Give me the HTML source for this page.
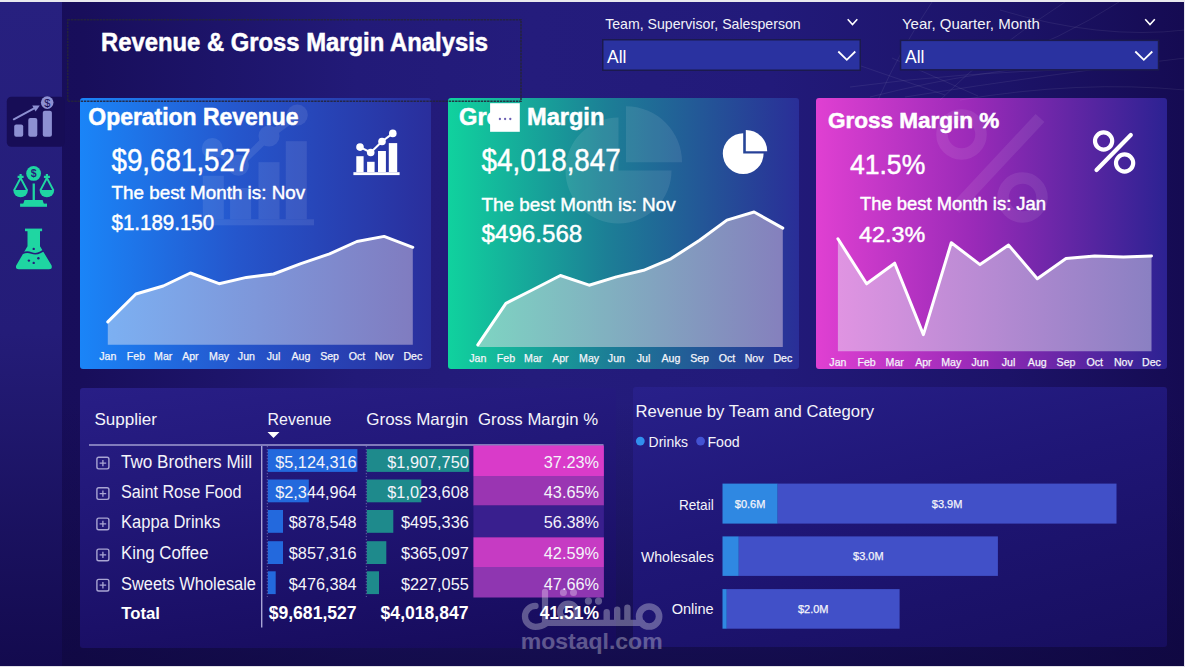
<!DOCTYPE html>
<html><head><meta charset="utf-8">
<style>
html,body{margin:0;padding:0;}
body{width:1185px;height:667px;overflow:hidden;position:relative;font-family:"Liberation Sans",sans-serif;background:#160c55;}
.a{position:absolute;}
svg text{font-family:"Liberation Sans",sans-serif;}
</style></head><body>
<div class="a" style="left:0;top:0;width:1185px;height:667px;background:linear-gradient(90deg,#170d58 0%,#180e5b 7%,#221a78 30%,#241c7c 45%,#221a7a 65%,#1c1368 85%,#150b52 100%);"></div>
<div class="a" style="left:0;top:0;width:1185px;height:667px;background:linear-gradient(180deg,rgba(16,8,70,0) 0%,rgba(16,8,70,0) 60%,rgba(14,7,60,0.75) 100%);"></div>
<div class="a" style="left:0;top:0;width:62px;height:667px;background:linear-gradient(180deg,#27207f 0%,#241c78 50%,#130a4e 100%);"></div>
<!-- cards -->
<div class="a" style="left:79.5px;top:97.5px;width:351px;height:271px;border-radius:3px;background:linear-gradient(90deg,#1a85f8 0%,#2556cc 45%,#2a2e9c 100%);"></div>
<div class="a" style="left:447.8px;top:97.5px;width:351px;height:271.8px;border-radius:3px;background:linear-gradient(90deg,#10d29e 0%,#1c7f96 45%,#2a2e98 100%);"></div>
<div class="a" style="left:816.3px;top:97.5px;width:351px;height:271.4px;border-radius:3px;background:linear-gradient(90deg,#e040d2 0%,#9a2ab8 45%,#2c2292 100%);"></div>
<!-- bottom panels -->
<div class="a" style="left:79.6px;top:387.5px;width:536px;height:260px;border-radius:3px;background:linear-gradient(172deg,#281e86 0%,#211777 40%,#1b1068 72%,#160b5a 100%);"></div>
<div class="a" style="left:632.5px;top:387.3px;width:534.5px;height:260px;border-radius:3px;background:linear-gradient(165deg,#28208a 0%,#1f1676 45%,#170e5e 100%);"></div>
<!-- slicers -->

<svg class="a" style="left:0;top:0" width="1185" height="667" viewBox="0 0 1185 667">
<defs>
<linearGradient id="f1" x1="0" x2="1" y1="0" y2="0"><stop offset="0" stop-color="#7cb0f2"/><stop offset="1" stop-color="#807cc0"/></linearGradient>
<linearGradient id="f2" x1="0" x2="1" y1="0" y2="0"><stop offset="0" stop-color="#7ed4c2"/><stop offset="1" stop-color="#8580bd"/></linearGradient>
<linearGradient id="f3" x1="0" x2="1" y1="0" y2="0"><stop offset="0" stop-color="#e094e2"/><stop offset="1" stop-color="#8a80c2"/></linearGradient>
</defs>
<g fill="none" stroke="#ffffff" stroke-opacity="0.07" stroke-width="1"><path d="M850 87 Q960 72 1090 69"/><path d="M905 97 Q1050 74 1185 58"/><path d="M861 66 L945 95"/><path d="M892 58 L978 96"/><path d="M870 97 Q985 68 1080 64"/><path d="M1065 2 Q990 50 940 100"/><path d="M932 2 Q900 50 878 100"/><path d="M1119 2 Q1060 40 995 62"/><path d="M960 100 Q1080 80 1185 90"/><path d="M1000 10 Q1100 40 1185 30"/></g>
<rect x="602.75" y="39.75" width="257.5" height="30.5" fill="#2a32a0" stroke="#1b1a4e" stroke-width="1.5"/>
<rect x="900.55" y="40.35" width="258" height="29.5" fill="#2a32a0" stroke="#1b1a4e" stroke-width="1.5"/>
<text x="101" y="50.7" font-size="25" font-weight="bold" stroke="#fff" stroke-width="0.5" text-anchor="start" fill="#fff" textLength="387" lengthAdjust="spacingAndGlyphs">Revenue &amp; Gross Margin Analysis</text>
<text x="605.2" y="28.8" font-size="15" text-anchor="start" fill="#f2f2f8" textLength="195.5" lengthAdjust="spacingAndGlyphs">Team, Supervisor, Salesperson</text>
<text x="901.9" y="28.8" font-size="15" text-anchor="start" fill="#f2f2f8" textLength="138" lengthAdjust="spacingAndGlyphs">Year, Quarter, Month</text>
<text x="607" y="62.8" font-size="17.5" text-anchor="start" fill="#fff">All</text>
<text x="905" y="62.8" font-size="17.5" text-anchor="start" fill="#fff">All</text>
<polyline points="847.7,19.2 852.5,24.6 857.3,19.2" fill="none" stroke="#fff" stroke-width="1.6"/>
<polyline points="1145.2,19.2 1150,24.6 1154.8,19.2" fill="none" stroke="#fff" stroke-width="1.6"/>
<polyline points="838.3,51.5 846.8,59.8 855.3,51.5" fill="none" stroke="#fff" stroke-width="1.8"/>
<polyline points="1135.3,51.5 1143.8,59.8 1152.3,51.5" fill="none" stroke="#fff" stroke-width="1.8"/>
<rect x="6.8" y="96.8" width="58" height="50" rx="4.5" fill="#170d56"/>
<rect x="14.2" y="124.6" width="9" height="12.1" rx="2" fill="#8d90d2"/>
<rect x="28.3" y="118.1" width="9" height="18.6" rx="2" fill="#8d90d2"/>
<rect x="42.8" y="110.8" width="9.1" height="25.9" rx="2" fill="#8d90d2"/>
<line x1="13.8" y1="119.3" x2="36" y2="107.4" stroke="#8d90d2" stroke-width="2" stroke-linecap="round"/>
<polygon points="39.8,105.4 32.2,105.6 35.6,111.6" fill="#8d90d2"/>
<circle cx="47.2" cy="102.6" r="6.3" fill="#8d90d2"/>
<text x="47.2" y="106.6" font-size="11" text-anchor="middle" fill="#170d56">$</text>
<circle cx="33.6" cy="173.4" r="7.4" fill="#1fd6a2"/>
<text x="33.6" y="177.4" font-size="10.5" font-weight="bold" text-anchor="middle" fill="#261e7c">$</text>
<rect x="32.6" y="183.5" width="2.3" height="17.5" fill="#1fd6a2"/>
<path d="M23.2 204 L24.5 200.1 H42.6 L43.9 204 Z" fill="#1fd6a2"/>
<rect x="20.1" y="203.6" width="26.9" height="3.2" fill="#1fd6a2"/>
<path d="M17.6 176.8 H23.6 M20.6 174 V179" stroke="#1fd6a2" stroke-width="2.2"/>
<path d="M20.6 178 L14.000000000000002 190.5 M20.6 178 L27.200000000000003 190.5" stroke="#1fd6a2" stroke-width="1.9" fill="none"/>
<path d="M13.3 190 H27.900000000000002 A7.3 7.3 0 0 1 13.3 190 Z" fill="#1fd6a2"/>
<path d="M43.9 176.8 H49.9 M46.9 174 V179" stroke="#1fd6a2" stroke-width="2.2"/>
<path d="M46.9 178 L40.3 190.5 M46.9 178 L53.5 190.5" stroke="#1fd6a2" stroke-width="1.9" fill="none"/>
<path d="M39.6 190 H54.199999999999996 A7.3 7.3 0 0 1 39.6 190 Z" fill="#1fd6a2"/>
<rect x="25" y="228.6" width="17.1" height="2.6" fill="#1fd6a2"/>
<path d="M27.5 231 H40 V246.2 L51.6 265.5 Q52.6 269.2 49 269.2 H18.8 Q15.2 269.2 16.2 265.5 L27.5 246.2 Z" fill="#1fd6a2"/>
<path d="M22.6 253.2 Q27 251.2 31.5 253 T40.5 252.2 T45.5 251.2" stroke="#261e7c" stroke-width="1.6" fill="none"/>
<circle cx="33.7" cy="248.9" r="1.2" fill="#261e7c"/>
<circle cx="38.4" cy="258.2" r="1.2" fill="#261e7c"/>
<circle cx="28.9" cy="260.6" r="1.2" fill="#261e7c"/>
<circle cx="33.7" cy="262.9" r="1.2" fill="#261e7c"/>
<g fill="#ffffff" opacity="1"><rect x="353.4" y="172.2" width="46.2" height="2.9"/><rect x="356.3" y="156.2" width="7.300000000000011" height="16.0"/><rect x="367.1" y="161.8" width="7.5" height="10.399999999999977"/><rect x="378.0" y="151.0" width="7.899999999999977" height="21.19999999999999"/><rect x="388.8" y="143.1" width="8.399999999999977" height="29.099999999999994"/><polyline points="360.0,147.1 370.7,152.5 382.0,141.5 392.8,133.4" fill="none" stroke="#ffffff" stroke-width="2"/><circle cx="360.0" cy="147.1" r="3.8"/><circle cx="370.7" cy="152.5" r="3.8"/><circle cx="382.0" cy="141.5" r="3.8"/><circle cx="392.8" cy="133.4" r="3.8"/></g>
<g fill="#ffffff" opacity="1"><path d="M743.2 153.6 V133.2 A20.4 20.4 0 1 0 763.6 153.6 Z"/><path d="M745.8 151.3 H767.1999999999999 A21.4 21.4 0 0 0 745.8 129.9 Z"/></g>
<g opacity="1"><circle cx="1103.6" cy="141" r="8.6" fill="none" stroke="#ffffff" stroke-width="4.2"/><circle cx="1124.6" cy="163" r="8.6" fill="none" stroke="#ffffff" stroke-width="4.2"/><line x1="1130.8" y1="135" x2="1096.5" y2="170" stroke="#ffffff" stroke-width="4.2" stroke-linecap="round"/></g>
<g fill="#fff" opacity="0.09"><rect x="195.5" y="219.3" width="118.5" height="6"/><rect x="202.8" y="175.8" width="21" height="43.5"/><rect x="230.1" y="188" width="21" height="31.3"/><rect x="258.5" y="162.2" width="21" height="57.1"/><rect x="285.8" y="141.2" width="21" height="78.1"/><polyline points="212.3,148.5 238.5,165.3 269,136 297.3,115" fill="none" stroke="#fff" stroke-width="7"/><circle cx="212.3" cy="148.5" r="10.5"/><circle cx="238.5" cy="165.3" r="10.5"/><circle cx="269" cy="136" r="10.5"/><circle cx="297.3" cy="115" r="10.5"/></g>
<polygon points="107.8,344.8 107.8,321.9 135.9,294 163.2,286 190.4,273 219.1,283.7 246.4,277.4 273.6,274 300.9,263.6 329.6,253.9 356.9,241.5 384.1,236.4 412.8,247.3 412.8,344.8" fill="url(#f1)"/><polyline points="107.8,321.9 135.9,294 163.2,286 190.4,273 219.1,283.7 246.4,277.4 273.6,274 300.9,263.6 329.6,253.9 356.9,241.5 384.1,236.4 412.8,247.3" fill="none" stroke="#fff" stroke-width="3" stroke-linejoin="round" stroke-linecap="round"/>
<text x="107.8" y="360.0" font-size="10.6" stroke="#f4f4fa" stroke-width="0.25" text-anchor="middle" fill="#f4f4fa">Jan</text>
<text x="135.9" y="360.0" font-size="10.6" stroke="#f4f4fa" stroke-width="0.25" text-anchor="middle" fill="#f4f4fa">Feb</text>
<text x="163.2" y="360.0" font-size="10.6" stroke="#f4f4fa" stroke-width="0.25" text-anchor="middle" fill="#f4f4fa">Mar</text>
<text x="190.4" y="360.0" font-size="10.6" stroke="#f4f4fa" stroke-width="0.25" text-anchor="middle" fill="#f4f4fa">Apr</text>
<text x="219.1" y="360.0" font-size="10.6" stroke="#f4f4fa" stroke-width="0.25" text-anchor="middle" fill="#f4f4fa">May</text>
<text x="246.4" y="360.0" font-size="10.6" stroke="#f4f4fa" stroke-width="0.25" text-anchor="middle" fill="#f4f4fa">Jun</text>
<text x="273.6" y="360.0" font-size="10.6" stroke="#f4f4fa" stroke-width="0.25" text-anchor="middle" fill="#f4f4fa">Jul</text>
<text x="300.9" y="360.0" font-size="10.6" stroke="#f4f4fa" stroke-width="0.25" text-anchor="middle" fill="#f4f4fa">Aug</text>
<text x="329.6" y="360.0" font-size="10.6" stroke="#f4f4fa" stroke-width="0.25" text-anchor="middle" fill="#f4f4fa">Sep</text>
<text x="356.9" y="360.0" font-size="10.6" stroke="#f4f4fa" stroke-width="0.25" text-anchor="middle" fill="#f4f4fa">Oct</text>
<text x="384.1" y="360.0" font-size="10.6" stroke="#f4f4fa" stroke-width="0.25" text-anchor="middle" fill="#f4f4fa">Nov</text>
<text x="412.8" y="360.0" font-size="10.6" stroke="#f4f4fa" stroke-width="0.25" text-anchor="middle" fill="#f4f4fa">Dec</text>
<text x="88.3" y="125.4" font-size="23" font-weight="bold" stroke="#fff" stroke-width="0.5" text-anchor="start" fill="#fff" textLength="210.3" lengthAdjust="spacingAndGlyphs">Operation Revenue</text>
<text x="111.5" y="170.6" font-size="31" stroke="#fff" stroke-width="0.45" text-anchor="start" fill="#fff" textLength="138.9" lengthAdjust="spacingAndGlyphs">$9,681,527</text>
<text x="111.5" y="198.5" font-size="19" stroke="#fff" stroke-width="0.45" text-anchor="start" fill="#fff" textLength="193.7" lengthAdjust="spacingAndGlyphs">The best Month is: Nov</text>
<text x="111.5" y="229.5" font-size="22.6" stroke="#fff" stroke-width="0.45" text-anchor="start" fill="#fff" textLength="102.7" lengthAdjust="spacingAndGlyphs">$1.189.150</text>
<g fill="#ffffff" opacity="0.09"><path d="M618.5 170.5 V117.5 A53 53 0 1 0 671.5 170.5 Z"/><path d="M626 162.3 H682 A56 56 0 0 0 626 106.30000000000001 Z"/></g>
<polygon points="477.8,346.9 477.8,344.9 505.9,303.3 533.2,289.5 560.4,275.5 589.1,285.2 616.4,276.9 643.6,270.3 670.9,258.8 699.6,240.2 726.9,220.1 754.1,212 782.8,228.1 782.8,346.9" fill="url(#f2)"/><polyline points="477.8,344.9 505.9,303.3 533.2,289.5 560.4,275.5 589.1,285.2 616.4,276.9 643.6,270.3 670.9,258.8 699.6,240.2 726.9,220.1 754.1,212 782.8,228.1" fill="none" stroke="#fff" stroke-width="3" stroke-linejoin="round" stroke-linecap="round"/>
<text x="477.8" y="362.2" font-size="10.6" stroke="#f4f4fa" stroke-width="0.25" text-anchor="middle" fill="#f4f4fa">Jan</text>
<text x="505.9" y="362.2" font-size="10.6" stroke="#f4f4fa" stroke-width="0.25" text-anchor="middle" fill="#f4f4fa">Feb</text>
<text x="533.2" y="362.2" font-size="10.6" stroke="#f4f4fa" stroke-width="0.25" text-anchor="middle" fill="#f4f4fa">Mar</text>
<text x="560.4" y="362.2" font-size="10.6" stroke="#f4f4fa" stroke-width="0.25" text-anchor="middle" fill="#f4f4fa">Apr</text>
<text x="589.1" y="362.2" font-size="10.6" stroke="#f4f4fa" stroke-width="0.25" text-anchor="middle" fill="#f4f4fa">May</text>
<text x="616.4" y="362.2" font-size="10.6" stroke="#f4f4fa" stroke-width="0.25" text-anchor="middle" fill="#f4f4fa">Jun</text>
<text x="643.6" y="362.2" font-size="10.6" stroke="#f4f4fa" stroke-width="0.25" text-anchor="middle" fill="#f4f4fa">Jul</text>
<text x="670.9" y="362.2" font-size="10.6" stroke="#f4f4fa" stroke-width="0.25" text-anchor="middle" fill="#f4f4fa">Aug</text>
<text x="699.6" y="362.2" font-size="10.6" stroke="#f4f4fa" stroke-width="0.25" text-anchor="middle" fill="#f4f4fa">Sep</text>
<text x="726.9" y="362.2" font-size="10.6" stroke="#f4f4fa" stroke-width="0.25" text-anchor="middle" fill="#f4f4fa">Oct</text>
<text x="754.1" y="362.2" font-size="10.6" stroke="#f4f4fa" stroke-width="0.25" text-anchor="middle" fill="#f4f4fa">Nov</text>
<text x="782.8" y="362.2" font-size="10.6" stroke="#f4f4fa" stroke-width="0.25" text-anchor="middle" fill="#f4f4fa">Dec</text>
<text x="459" y="125.4" font-size="23" font-weight="bold" stroke="#fff" stroke-width="0.5" text-anchor="start" fill="#fff" textLength="42" lengthAdjust="spacingAndGlyphs">Gro</text>
<text x="527" y="125.4" font-size="23" font-weight="bold" stroke="#fff" stroke-width="0.5" text-anchor="start" fill="#fff" textLength="77.3" lengthAdjust="spacingAndGlyphs">Margin</text>
<text x="481.5" y="170.6" font-size="31" stroke="#fff" stroke-width="0.45" text-anchor="start" fill="#fff" textLength="139.3" lengthAdjust="spacingAndGlyphs">$4,018,847</text>
<text x="481.5" y="210.6" font-size="19" stroke="#fff" stroke-width="0.45" text-anchor="start" fill="#fff" textLength="194.2" lengthAdjust="spacingAndGlyphs">The best Month is: Nov</text>
<text x="481.5" y="242.1" font-size="23.5" stroke="#fff" stroke-width="0.45" text-anchor="start" fill="#fff" textLength="100.8" lengthAdjust="spacingAndGlyphs">$496.568</text>
<g opacity="0.08"><circle cx="961.5" cy="134.5" r="19.5" fill="none" stroke="#ffffff" stroke-width="11.5"/><circle cx="1022.5" cy="197.5" r="19.5" fill="none" stroke="#ffffff" stroke-width="11.5"/><line x1="1040" y1="118" x2="955" y2="209" stroke="#ffffff" stroke-width="12" stroke-linecap="butt"/></g>
<polygon points="837.9,351.3 837.9,238.8 866.6,283.8 894.7,263.2 923.4,334.6 951.3,242.8 980,264.6 1008.6,245.1 1037.3,278.7 1066,258.6 1094.7,256 1123.4,257.1 1151.5,256 1151.5,351.3" fill="url(#f3)"/><polyline points="837.9,238.8 866.6,283.8 894.7,263.2 923.4,334.6 951.3,242.8 980,264.6 1008.6,245.1 1037.3,278.7 1066,258.6 1094.7,256 1123.4,257.1 1151.5,256" fill="none" stroke="#fff" stroke-width="3" stroke-linejoin="round" stroke-linecap="round"/>
<text x="837.9" y="366.3" font-size="10.6" stroke="#f4f4fa" stroke-width="0.25" text-anchor="middle" fill="#f4f4fa">Jan</text>
<text x="866.6" y="366.3" font-size="10.6" stroke="#f4f4fa" stroke-width="0.25" text-anchor="middle" fill="#f4f4fa">Feb</text>
<text x="894.7" y="366.3" font-size="10.6" stroke="#f4f4fa" stroke-width="0.25" text-anchor="middle" fill="#f4f4fa">Mar</text>
<text x="923.4" y="366.3" font-size="10.6" stroke="#f4f4fa" stroke-width="0.25" text-anchor="middle" fill="#f4f4fa">Apr</text>
<text x="951.3" y="366.3" font-size="10.6" stroke="#f4f4fa" stroke-width="0.25" text-anchor="middle" fill="#f4f4fa">May</text>
<text x="980" y="366.3" font-size="10.6" stroke="#f4f4fa" stroke-width="0.25" text-anchor="middle" fill="#f4f4fa">Jun</text>
<text x="1008.6" y="366.3" font-size="10.6" stroke="#f4f4fa" stroke-width="0.25" text-anchor="middle" fill="#f4f4fa">Jul</text>
<text x="1037.3" y="366.3" font-size="10.6" stroke="#f4f4fa" stroke-width="0.25" text-anchor="middle" fill="#f4f4fa">Aug</text>
<text x="1066" y="366.3" font-size="10.6" stroke="#f4f4fa" stroke-width="0.25" text-anchor="middle" fill="#f4f4fa">Sep</text>
<text x="1094.7" y="366.3" font-size="10.6" stroke="#f4f4fa" stroke-width="0.25" text-anchor="middle" fill="#f4f4fa">Oct</text>
<text x="1123.4" y="366.3" font-size="10.6" stroke="#f4f4fa" stroke-width="0.25" text-anchor="middle" fill="#f4f4fa">Nov</text>
<text x="1151.5" y="366.3" font-size="10.6" stroke="#f4f4fa" stroke-width="0.25" text-anchor="middle" fill="#f4f4fa">Dec</text>
<text x="828" y="127.5" font-size="21.5" font-weight="bold" stroke="#fff" stroke-width="0.5" text-anchor="start" fill="#fff" textLength="171.3" lengthAdjust="spacingAndGlyphs">Gross Margin %</text>
<text x="849.9" y="173.6" font-size="27" stroke="#fff" stroke-width="0.45" text-anchor="start" fill="#fff" textLength="75.4" lengthAdjust="spacingAndGlyphs">41.5%</text>
<text x="860" y="210.3" font-size="18.5" stroke="#fff" stroke-width="0.45" text-anchor="start" fill="#fff" textLength="186" lengthAdjust="spacingAndGlyphs">The best Month is: Jan</text>
<text x="858.9" y="242.2" font-size="22.5" stroke="#fff" stroke-width="0.45" text-anchor="start" fill="#fff" textLength="66.3" lengthAdjust="spacingAndGlyphs">42.3%</text>
<text x="94.4" y="424.8" font-size="16.5" text-anchor="start" fill="#f4f4fa" textLength="62.6" lengthAdjust="spacingAndGlyphs">Supplier</text>
<text x="267.6" y="424.6" font-size="16.5" text-anchor="start" fill="#f4f4fa" textLength="63.8" lengthAdjust="spacingAndGlyphs">Revenue</text>
<text x="366.3" y="424.6" font-size="16.5" text-anchor="start" fill="#f4f4fa" textLength="101.8" lengthAdjust="spacingAndGlyphs">Gross Margin</text>
<text x="478.1" y="424.6" font-size="16.5" text-anchor="start" fill="#f4f4fa" textLength="120" lengthAdjust="spacingAndGlyphs">Gross Margin %</text>
<polygon points="267.5,432 279.5,432 273.5,438" fill="#fff"/>
<rect x="89" y="444.3" width="514.5" height="1.4" fill="#a9a5d6"/>
<rect x="261" y="446" width="1.4" height="181.5" fill="#a9a5d6"/>
<path d="M267.3 446 V597 M366.3 446 V597" stroke="#c8c4e8" stroke-opacity="0.55" stroke-width="0.8" stroke-dasharray="1.2 1.8"/>
<rect x="473.4" y="445.5" width="130.5" height="30.5" fill="#d93bc9"/>
<rect x="267.8" y="449.1" width="89.59999999999997" height="22.8" fill="#2369dd"/>
<rect x="366.8" y="449.1" width="102.5" height="22.8" fill="#1e8a8c"/>
<text x="121" y="467.5" font-size="17.5" text-anchor="start" fill="#f4f4fa" textLength="131" lengthAdjust="spacingAndGlyphs">Two Brothers Mill</text>
<text x="356.7" y="467.5" font-size="16.3" text-anchor="end" fill="#f4f4fa">$5,124,316</text>
<text x="468.8" y="467.5" font-size="16.3" text-anchor="end" fill="#f4f4fa">$1,907,750</text>
<text x="599" y="467.5" font-size="16.3" text-anchor="end" fill="#f4f4fa">37.23%</text>
<rect x="96.9" y="457.3" width="12" height="11.6" rx="1.8" fill="none" stroke="#a9a5d3" stroke-width="1.4"/>
<path d="M99.6 463.1h6.6M102.9 459.90000000000003v6.4" stroke="#a9a5d3" stroke-width="1.3"/>
<rect x="473.4" y="476" width="130.5" height="29.600000000000023" fill="#9a35b2"/>
<rect x="267.8" y="479.5" width="41.0" height="22.8" fill="#2369dd"/>
<rect x="366.8" y="479.5" width="54.5" height="22.8" fill="#1e8a8c"/>
<text x="121" y="498" font-size="17.5" text-anchor="start" fill="#f4f4fa" textLength="120.6" lengthAdjust="spacingAndGlyphs">Saint Rose Food</text>
<text x="356.7" y="498" font-size="16.3" text-anchor="end" fill="#f4f4fa">$2,344,964</text>
<text x="468.8" y="498" font-size="16.3" text-anchor="end" fill="#f4f4fa">$1,023,608</text>
<text x="599" y="498" font-size="16.3" text-anchor="end" fill="#f4f4fa">43.65%</text>
<rect x="96.9" y="487.8" width="12" height="11.6" rx="1.8" fill="none" stroke="#a9a5d3" stroke-width="1.4"/>
<path d="M99.6 493.6h6.6M102.9 490.40000000000003v6.4" stroke="#a9a5d3" stroke-width="1.3"/>
<rect x="473.4" y="505.6" width="130.5" height="31.699999999999932" fill="#391f8e"/>
<rect x="267.8" y="510" width="15.199999999999989" height="22.8" fill="#2369dd"/>
<rect x="366.8" y="510" width="26.5" height="22.8" fill="#1e8a8c"/>
<text x="121" y="528.3" font-size="17.5" text-anchor="start" fill="#f4f4fa" textLength="99.3" lengthAdjust="spacingAndGlyphs">Kappa Drinks</text>
<text x="356.7" y="528.3" font-size="16.3" text-anchor="end" fill="#f4f4fa">$878,548</text>
<text x="468.8" y="528.3" font-size="16.3" text-anchor="end" fill="#f4f4fa">$495,336</text>
<text x="599" y="528.3" font-size="16.3" text-anchor="end" fill="#f4f4fa">56.38%</text>
<rect x="96.9" y="518.0999999999999" width="12" height="11.6" rx="1.8" fill="none" stroke="#a9a5d3" stroke-width="1.4"/>
<path d="M99.6 523.8999999999999h6.6M102.9 520.6999999999999v6.4" stroke="#a9a5d3" stroke-width="1.3"/>
<rect x="473.4" y="537.3" width="130.5" height="29.700000000000045" fill="#c63bc3"/>
<rect x="267.8" y="541.2" width="15.199999999999989" height="22.8" fill="#2369dd"/>
<rect x="366.8" y="541.2" width="19.5" height="22.8" fill="#1e8a8c"/>
<text x="121" y="559.3" font-size="17.5" text-anchor="start" fill="#f4f4fa" textLength="87.5" lengthAdjust="spacingAndGlyphs">King Coffee</text>
<text x="356.7" y="559.3" font-size="16.3" text-anchor="end" fill="#f4f4fa">$857,316</text>
<text x="468.8" y="559.3" font-size="16.3" text-anchor="end" fill="#f4f4fa">$365,097</text>
<text x="599" y="559.3" font-size="16.3" text-anchor="end" fill="#f4f4fa">42.59%</text>
<rect x="96.9" y="549.0999999999999" width="12" height="11.6" rx="1.8" fill="none" stroke="#a9a5d3" stroke-width="1.4"/>
<path d="M99.6 554.8999999999999h6.6M102.9 551.6999999999999v6.4" stroke="#a9a5d3" stroke-width="1.3"/>
<rect x="473.4" y="567" width="130.5" height="30.5" fill="#8f36b1"/>
<rect x="267.8" y="571.3" width="7.899999999999977" height="22.8" fill="#2369dd"/>
<rect x="366.8" y="571.3" width="12.199999999999989" height="22.8" fill="#1e8a8c"/>
<text x="121" y="589.6" font-size="17.5" text-anchor="start" fill="#f4f4fa" textLength="135" lengthAdjust="spacingAndGlyphs">Sweets Wholesale</text>
<text x="356.7" y="589.6" font-size="16.3" text-anchor="end" fill="#f4f4fa">$476,384</text>
<text x="468.8" y="589.6" font-size="16.3" text-anchor="end" fill="#f4f4fa">$227,055</text>
<text x="599" y="589.6" font-size="16.3" text-anchor="end" fill="#f4f4fa">47.66%</text>
<rect x="96.9" y="579.4" width="12" height="11.6" rx="1.8" fill="none" stroke="#a9a5d3" stroke-width="1.4"/>
<path d="M99.6 585.1999999999999h6.6M102.9 582.0v6.4" stroke="#a9a5d3" stroke-width="1.3"/>
<text x="121.2" y="619.2" font-size="17" font-weight="bold" text-anchor="start" fill="#fff" textLength="38.8" lengthAdjust="spacingAndGlyphs">Total</text>
<text x="356.6" y="619.2" font-size="17.5" font-weight="bold" text-anchor="end" fill="#fff" textLength="87.9" lengthAdjust="spacingAndGlyphs">$9,681,527</text>
<text x="468.5" y="619.2" font-size="17.5" font-weight="bold" text-anchor="end" fill="#fff" textLength="87.9" lengthAdjust="spacingAndGlyphs">$4,018,847</text>
<text x="599" y="619.2" font-size="17.5" font-weight="bold" text-anchor="end" fill="#fff">41.51%</text>
<text x="635.5" y="416.9" font-size="16.5" text-anchor="start" fill="#f4f4fa" textLength="238.5" lengthAdjust="spacingAndGlyphs">Revenue by Team and Category</text>
<circle cx="640.3" cy="441.1" r="4.4" fill="#3190ee"/>
<circle cx="700.6" cy="441.1" r="4.4" fill="#4352d2"/>
<text x="648.6" y="446.6" font-size="14.5" text-anchor="start" fill="#f4f4fa" textLength="39.5" lengthAdjust="spacingAndGlyphs">Drinks</text>
<text x="707.4" y="446.6" font-size="14.5" text-anchor="start" fill="#f4f4fa" textLength="32.3" lengthAdjust="spacingAndGlyphs">Food</text>
<rect x="722.5" y="483.6" width="55.200000000000045" height="40.0" fill="#2f88e2"/>
<rect x="777.7" y="483.6" width="338.79999999999995" height="40.0" fill="#4150c8"/>
<text x="713.7" y="509.5" font-size="15" text-anchor="end" fill="#f4f4fa" textLength="34.8" lengthAdjust="spacingAndGlyphs">Retail</text>
<text x="750.1" y="507.5" font-size="11" stroke="#f4f4fa" stroke-width="0.25" text-anchor="middle" fill="#f4f4fa">$0.6M</text>
<text x="947.1" y="507.5" font-size="11" stroke="#f4f4fa" stroke-width="0.25" text-anchor="middle" fill="#f4f4fa">$3.9M</text>
<rect x="722.5" y="536.4" width="16.299999999999955" height="39.5" fill="#2f88e2"/>
<rect x="738.8" y="536.4" width="259.1" height="39.5" fill="#4150c8"/>
<text x="713.7" y="562.3" font-size="15" text-anchor="end" fill="#f4f4fa" textLength="72.7" lengthAdjust="spacingAndGlyphs">Wholesales</text>
<text x="868.3499999999999" y="560.05" font-size="11" stroke="#f4f4fa" stroke-width="0.25" text-anchor="middle" fill="#f4f4fa">$3.0M</text>
<rect x="722.5" y="589.1" width="4.2999999999999545" height="39.60000000000002" fill="#2f88e2"/>
<rect x="726.8" y="589.1" width="172.80000000000007" height="39.60000000000002" fill="#4150c8"/>
<text x="713.7" y="614.3" font-size="15" text-anchor="end" fill="#f4f4fa" textLength="42" lengthAdjust="spacingAndGlyphs">Online</text>
<text x="813.2" y="612.8000000000001" font-size="11" stroke="#f4f4fa" stroke-width="0.25" text-anchor="middle" fill="#f4f4fa">$2.0M</text>
<rect x="67.7" y="19.7" width="453.3" height="81.6" fill="none" stroke="#25253a" stroke-opacity="0.9" stroke-width="1.6" stroke-dasharray="2.4 0.8"/>
<rect x="490.1" y="103.2" width="29.7" height="28.6" fill="#fff"/>
<circle cx="499.9" cy="119" r="1.15" fill="#6a5eb2"/>
<circle cx="505.1" cy="119" r="1.15" fill="#6a5eb2"/>
<circle cx="510.3" cy="119" r="1.15" fill="#6a5eb2"/>
<g opacity="0.31" fill="#fff"><text x="520.8" y="648.5" font-size="22" font-weight="bold" textLength="141.8" lengthAdjust="spacingAndGlyphs">mostaql.com</text><path d="M535.5 605.9 A10.5 10.5 0 0 0 535.5 626.9 Q541 626.9 547 622.8 H642" fill="none" stroke="#fff" stroke-width="6.3" stroke-linecap="round"/><path d="M545 591.8 V623" stroke="#fff" stroke-width="6.2" stroke-linecap="round"/><circle cx="568.3" cy="611.8" r="8.3" fill="none" stroke="#fff" stroke-width="6"/><circle cx="563.4" cy="592.4" r="3.5"/><circle cx="573.5" cy="592.4" r="3.5"/><circle cx="588.4" cy="601.1" r="3.6"/><circle cx="598.5" cy="601.1" r="3.6"/><path d="M606.7 612.2 V622 M617.2 609.6 V622 M627.4 607.7 V622" stroke="#fff" stroke-width="6.4" stroke-linecap="round"/><circle cx="649.1" cy="616.5" r="10" fill="none" stroke="#fff" stroke-width="6.7"/></g>
</svg>
<!-- borders -->
<div class="a" style="left:0;top:0;width:1185px;height:2px;background:#e9e9ee;"></div>
<div class="a" style="left:1183.5px;top:0;width:2px;height:667px;background:#e9e9ee;"></div>
<div class="a" style="left:0;top:666px;width:1185px;height:1px;background:#e0e0e8;"></div>
</body></html>
